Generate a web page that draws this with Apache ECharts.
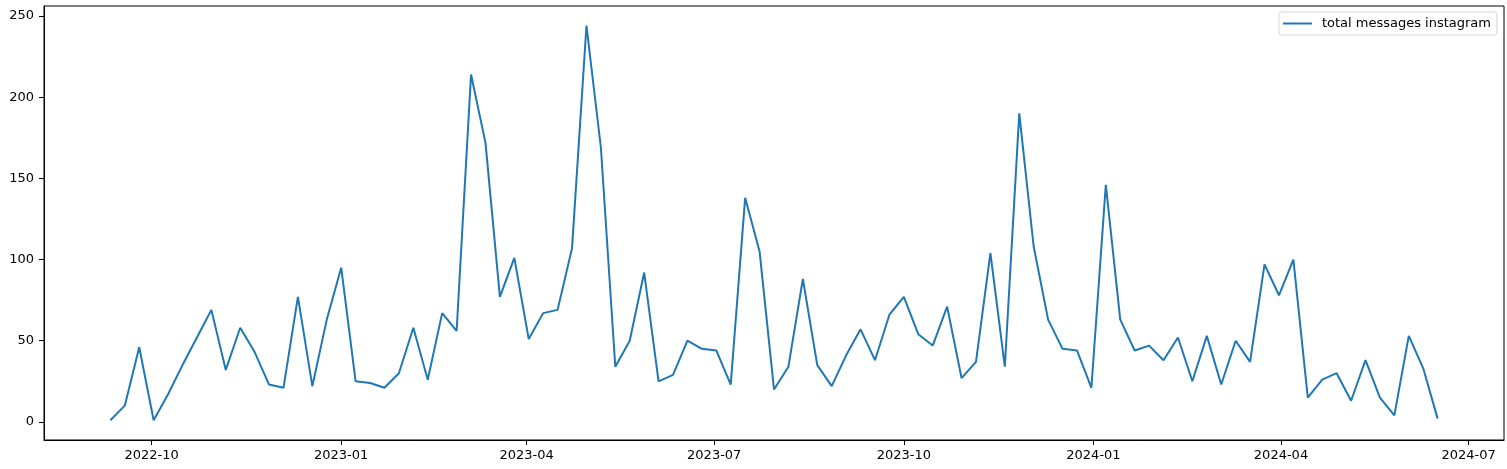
<!DOCTYPE html>
<html>
<head>
<meta charset="utf-8">
<script src="https://cdn.jsdelivr.net/npm/echarts@6/dist/echarts.min.js"></script>
<style>
  html, body { margin: 0; padding: 0; background: #fff; }
  #chart { width: 1507px; height: 469px; }
</style>
</head>
<body>
<div id="chart"></div>
<script>
// weekly buckets (week ending Sunday)
const weeks = [
  '2022-09-11', '2022-09-18', '2022-09-25', '2022-10-02', '2022-10-09', '2022-10-16', '2022-10-23', '2022-10-30',
  '2022-11-06', '2022-11-13', '2022-11-20', '2022-11-27', '2022-12-04', '2022-12-11', '2022-12-18', '2022-12-25',
  '2023-01-01', '2023-01-08', '2023-01-15', '2023-01-22', '2023-01-29', '2023-02-05', '2023-02-12', '2023-02-19',
  '2023-02-26', '2023-03-05', '2023-03-12', '2023-03-19', '2023-03-26', '2023-04-02', '2023-04-09', '2023-04-16',
  '2023-04-23', '2023-04-30', '2023-05-07', '2023-05-14', '2023-05-21', '2023-05-28', '2023-06-04', '2023-06-11',
  '2023-06-18', '2023-06-25', '2023-07-02', '2023-07-09', '2023-07-16', '2023-07-23', '2023-07-30', '2023-08-06',
  '2023-08-13', '2023-08-20', '2023-08-27', '2023-09-03', '2023-09-10', '2023-09-17', '2023-09-24', '2023-10-01',
  '2023-10-08', '2023-10-15', '2023-10-22', '2023-10-29', '2023-11-05', '2023-11-12', '2023-11-19', '2023-11-26',
  '2023-12-03', '2023-12-10', '2023-12-17', '2023-12-24', '2023-12-31', '2024-01-07', '2024-01-14', '2024-01-21',
  '2024-01-28', '2024-02-04', '2024-02-11', '2024-02-18', '2024-02-25', '2024-03-03', '2024-03-10', '2024-03-17',
  '2024-03-24', '2024-03-31', '2024-04-07', '2024-04-14', '2024-04-21', '2024-04-28', '2024-05-05', '2024-05-12',
  '2024-05-19', '2024-05-26', '2024-06-02', '2024-06-09', '2024-06-16'
];

const totalMessages = [
  1, 10, 46, 1, 17, 35, 52, 69,
  32, 58, 43, 23, 21, 77, 22, 63,
  95, 25, 24, 21, 30, 58, 26, 67,
  56, 214, 172, 77, 101, 51, 67, 69,
  107, 244, 169, 34, 50, 92, 25, 29,
  50, 45, 44, 23, 138, 105, 20, 34,
  88, 35, 22, 41, 57, 38, 66, 77,
  54, 47, 71, 27, 37, 104, 34, 190,
  108, 63, 45, 44, 21, 146, 63, 44,
  47, 38, 52, 25, 53, 23, 50, 37,
  97, 78, 100, 15, 26, 30, 13, 38,
  15, 4, 53, 33, 2
];

const xTicks = ['2022-10-01', '2023-01-01', '2023-04-01', '2023-07-01', '2023-10-01', '2024-01-01', '2024-04-01', '2024-07-01'];
const yTicks = [0, 50, 100, 150, 200, 250];

const seriesName = 'total messages instagram';

const ts = (s) => {
    const [y, m, d] = s.split('-').map(Number);
    return new Date(y, m - 1, d).getTime();
};

const pad2 = (n) => String(n).padStart(2, '0');

// matplotlib style 5% margins
const xFirst = ts(weeks[0]);
const xLast = ts(weeks[weeks.length - 1]);
const xPad = (xLast - xFirst) * 0.05;
const yLo = Math.min(...totalMessages);
const yHi = Math.max(...totalMessages);
const yPad = (yHi - yLo) * 0.05;

const font = 'DejaVu Sans';

const option = {
    animation: false,
    backgroundColor: '#fff',
    grid: {
        left: 44,
        right: 3,
        top: 6,
        bottom: 29,
        show: true,
        borderColor: '#000',
        borderWidth: 1
    },
    legend: {
        data: [seriesName],
        right: 10,
        top: 12,
        icon: 'rect',
        itemWidth: 29,
        itemHeight: 2,
        padding: [5, 6, 5, 4],
        backgroundColor: '#fff',
        borderColor: '#d6d6d6',
        borderWidth: 1,
        borderRadius: 3,
        textStyle: {
            fontFamily: font,
            fontSize: 13,
            color: '#000',
            padding: [0, 0, 0, 5]
        }
    },
    xAxis: {
        // dates as plain numbers so the tick positions can be fixed
        type: 'value',
        min: xFirst - xPad,
        max: xLast + xPad,
        splitLine: { show: false },
        axisLine: { onZero: false, lineStyle: { color: '#000', width: 1 } },
        axisTick: {
            show: true,
            length: 5,
            lineStyle: { color: '#000' },
            customValues: xTicks.map(ts)
        },
        axisLabel: {
            customValues: xTicks.map(ts),
            margin: 9,
            color: '#000',
            fontFamily: font,
            fontSize: 13,
            formatter: function (v) {
                const d = new Date(v);
                return d.getFullYear() + '-' + pad2(d.getMonth() + 1);
            }
        }
    },
    yAxis: {
        type: 'value',
        min: yLo - yPad,
        max: yHi + yPad,
        splitLine: { show: false },
        axisLine: { show: true, onZero: false, lineStyle: { color: '#000', width: 1 } },
        axisTick: {
            show: true,
            length: 5,
            lineStyle: { color: '#000' },
            customValues: yTicks
        },
        axisLabel: {
            customValues: yTicks,
            margin: 10,
            color: '#000',
            fontFamily: font,
            fontSize: 13
        }
    },
    series: [
        {
            name: seriesName,
            type: 'line',
            data: weeks.map((w, i) => [ts(w), totalMessages[i]]),
            symbol: 'none',
            lineStyle: { color: '#1f77b4', width: 2 },
            itemStyle: { color: '#1f77b4' }
        }
    ]
};

const chart = echarts.init(document.getElementById('chart'));
chart.setOption(option);
</script>
</body>
</html>
